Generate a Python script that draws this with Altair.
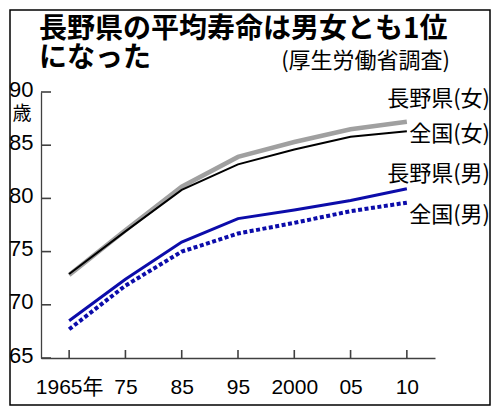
import altair as alt
import pandas as pd

years = ["1965年", "75", "85", "95", "2000", "05", "10"]
nagano_f = [72.8, 77.0, 81.1, 83.9, 85.3, 86.5, 87.2]
zenkoku_f = [72.9, 76.9, 80.8, 83.2, 84.6, 85.8, 86.3]
nagano_m = [68.5, 72.4, 75.9, 78.1, 78.9, 79.8, 80.9]
zenkoku_m = [67.7, 71.8, 75.0, 76.7, 77.7, 78.8, 79.6]
y_ticks = [65, 70, 75, 80, 85, 90]

series_names = ["長野県(女)", "全国(女)", "長野県(男)", "全国(男)"]
title_lines = ["長野県の平均寿命は男女とも1位", "になった"]
source = "(厚生労働省調査)"
unit = "歳"

JP = "Noto Sans CJK JP"
NUM = "Liberation Sans, Noto Sans CJK JP"
BLUE = "#0c0caa"
AXIS = "#404040"

W, H = 394, 266

df = pd.DataFrame({
    "year": years * 4,
    "value": nagano_f + zenkoku_f + nagano_m + zenkoku_m,
    "series": sum([[s] * len(years) for s in series_names], []),
})

x_scale = alt.Scale(type="point", padding=0.5)
x_enc = alt.X(
    "year:N", sort=years, title=None, scale=x_scale,
    axis=alt.Axis(labelAngle=0, ticks=False, tickSize=0, labelPadding=18,
                  labelFont=NUM, labelFontSize=21, labelColor="black",
                  domainColor=AXIS, domainWidth=1.3, grid=False),
)
y_enc = alt.Y(
    "value:Q", title=None,
    scale=alt.Scale(domain=[65, 90], nice=False, zero=False),
    axis=alt.Axis(values=y_ticks, ticks=False, tickSize=0, labelPadding=8,
                  labelOffset=-3, labelFont=NUM, labelFontSize=22,
                  labelColor="black", domainColor=AXIS, domainWidth=1.3,
                  grid=False),
)


def line(name, **style):
    return (
        alt.Chart(df[df["series"] == name])
        .mark_line(**style)
        .encode(x=x_enc, y=y_enc)
    )


def label(text, x, y, size=22, align="right", weight="normal"):
    return (
        alt.Chart(pd.DataFrame({"t": [text]}))
        .mark_text(align=align, baseline="middle", font=JP, fontSize=size,
                   fontWeight=weight, color="black")
        .encode(text="t:N", x=alt.value(x), y=alt.value(y))
    )


# inward ticks, drawn as short rules through the shared scales
y_tick_rules = (
    alt.Chart(pd.DataFrame({"value": y_ticks}))
    .mark_rule(color=AXIS, strokeWidth=1.6)
    .encode(y=alt.Y("value:Q"), x=alt.value(0), x2=alt.value(10))
)
x_tick_rules = (
    alt.Chart(pd.DataFrame({"year": years}))
    .mark_rule(color=AXIS, strokeWidth=1.6)
    .encode(x=alt.X("year:N", sort=years, scale=x_scale),
            y=alt.value(H), y2=alt.value(H - 8))
)

frame = (
    alt.Chart(pd.DataFrame({"a": [0]}))
    .mark_rect(filled=False, stroke="black", strokeWidth=1.5)
    .encode(x=alt.value(-31), x2=alt.value(W + 55), y=alt.value(-82), y2=alt.value(H + 47))
)

chart = alt.layer(
    line(series_names[0], color="#a0a0a0", strokeWidth=4.5),
    line(series_names[1], color="black", strokeWidth=2),
    line(series_names[3], color=BLUE, strokeWidth=4, strokeDash=[4, 2.5]),
    line(series_names[2], color=BLUE, strokeWidth=3),
    y_tick_rules,
    x_tick_rules,
    label(title_lines[0], -2, -62, size=28, align="left", weight="bold"),
    label(title_lines[1], -2, -33, size=28, align="left", weight="bold"),
    label(source, 409, -31, size=22),
    label(unit, -19, 22, size=19, align="center"),
    label(series_names[0], 449, 7),
    label(series_names[1], 449, 42),
    label(series_names[2], 449, 82),
    label(series_names[3], 449, 123),
    frame,
).properties(
    width=W,
    height=H,
    padding={"left": 33, "top": 84, "right": 57, "bottom": 50},
    autosize=alt.AutoSizeParams(type="none"),
).configure_view(strokeWidth=0)

chart.save("out.html", embed_options={"renderer": "svg", "actions": False})
